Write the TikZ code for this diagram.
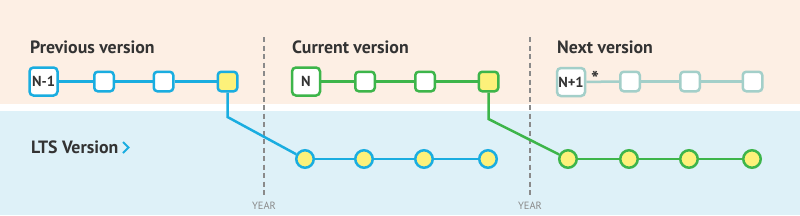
\documentclass[tikz,border=0pt]{standalone}
\usepackage{fontspec}
\setmainfont{PT Sans}
\usetikzlibrary{positioning}

\definecolor{peachbg}{HTML}{FDEFE4}
\definecolor{ltsbg}{HTML}{DEF1F8}
\definecolor{prevblue}{HTML}{1AADE0}
\definecolor{curgreen}{HTML}{3DB54A}
\definecolor{nextteal}{HTML}{A3CFC9}
\definecolor{relyellow}{HTML}{FDF17A}
\definecolor{textgray}{HTML}{333333}
\definecolor{yeargray}{HTML}{8A8A8A}

\begin{document}
\begin{tikzpicture}[
    x=1pt, y=-1pt,
    major/.style={draw, line width=2.5pt, rounded corners=4pt, fill=white, minimum size=28pt, inner sep=0pt, text=textgray, font=\bfseries\fontsize{14.5}{14.5}\selectfont},
    minor/.style={draw, line width=2.5pt, rounded corners=3.5pt, fill=white, minimum size=19.5pt, inner sep=0pt},
    ltsdot/.style={circle, draw, line width=2.5pt, fill=relyellow, minimum size=17.5pt, inner sep=0pt},
    link/.style={line width=2.5pt},
    heading/.style={anchor=west, inner sep=0pt, text=textgray, font=\bfseries\fontsize{17.8}{17.8}\selectfont},
    yearline/.style={yeargray, line width=1.5pt, dash pattern=on 5pt off 3.5pt},
    yearlabel/.style={text=yeargray, inner sep=0pt, font=\fontsize{10.5}{10.5}\selectfont}
]
\useasboundingbox (0,0) rectangle (800,215);
% bands
\fill[peachbg] (0,0) rectangle (800,104);
\fill[ltsbg] (0,111) rectangle (800,215);

% year marks
\draw[yearline] (264,37) -- (264,197);
\draw[yearline] (530,37) -- (530,197);
\node[yearlabel] (year1) at (264,206) {YEAR};
\node[yearlabel] (year2) at (530,206) {YEAR};

% headings
\node[heading] (prevhead) at (30,47) {Previous version};
\node[heading] (curhead) at (292,47) {Current version};
\node[heading] (nexthead) at (557,47) {Next version};
\node[heading] (ltshead) at (31,147) {LTS Version};
\draw[prevblue, line width=2pt] (123,142) -- (128.5,147.5) -- (123,153);

% previous version
\node[major, draw=prevblue] (p0) at (43.5,81.5) {N-1};
\node[minor, draw=prevblue] (p1) at (104,81.5) {};
\node[minor, draw=prevblue] (p2) at (163.5,81.5) {};
\node[minor, draw=prevblue, fill=relyellow] (p3) at (227.5,81.5) {};

% current version
\node[major, draw=curgreen] (c0) at (306,81.5) {N};
\node[minor, draw=curgreen] (c1) at (365,81.5) {};
\node[minor, draw=curgreen] (c2) at (425,81.5) {};
\node[minor, draw=curgreen, fill=relyellow] (c3) at (488.5,81.5) {};

% next version
\node[major, draw=nextteal] (n0) at (571,82) {N+1};
\node[text=textgray, inner sep=0pt, font=\bfseries\fontsize{21}{21}\selectfont] (ast) at (595,79) {*};
\node[minor, draw=nextteal] (n1) at (630,81.5) {};
\node[minor, draw=nextteal] (n2) at (690,81.5) {};
\node[minor, draw=nextteal] (n3) at (752.5,81.5) {};

% LTS releases
\foreach \i/\x in {1/305, 2/364, 3/424, 4/488}
  \node[ltsdot, draw=prevblue] (b\i) at (\x,159) {};
\foreach \i/\x in {1/568, 2/629, 3/689, 4/752}
  \node[ltsdot, draw=curgreen] (g\i) at (\x,159) {};
\coordinate (pbend) at (227.5,117);
\coordinate (cbend) at (488.5,119);

% connectors
\draw[link, prevblue] (p0) -- (p1);
\draw[link, prevblue] (p1) -- (p2);
\draw[link, prevblue] (p2) -- (p3);
\draw[link, prevblue] (p3) -- (pbend) -- (b1);
\draw[link, prevblue] (b1) -- (b2);
\draw[link, prevblue] (b2) -- (b3);
\draw[link, prevblue] (b3) -- (b4);
\draw[link, curgreen] (c0) -- (c1);
\draw[link, curgreen] (c1) -- (c2);
\draw[link, curgreen] (c2) -- (c3);
\draw[link, curgreen] (c3) -- (cbend) -- (g1);
\draw[link, curgreen] (g1) -- (g2);
\draw[link, curgreen] (g2) -- (g3);
\draw[link, curgreen] (g3) -- (g4);
\draw[link, nextteal] (n0) -- (n1);
\draw[link, nextteal] (n1) -- (n2);
\draw[link, nextteal] (n2) -- (n3);
\end{tikzpicture}
\end{document}
